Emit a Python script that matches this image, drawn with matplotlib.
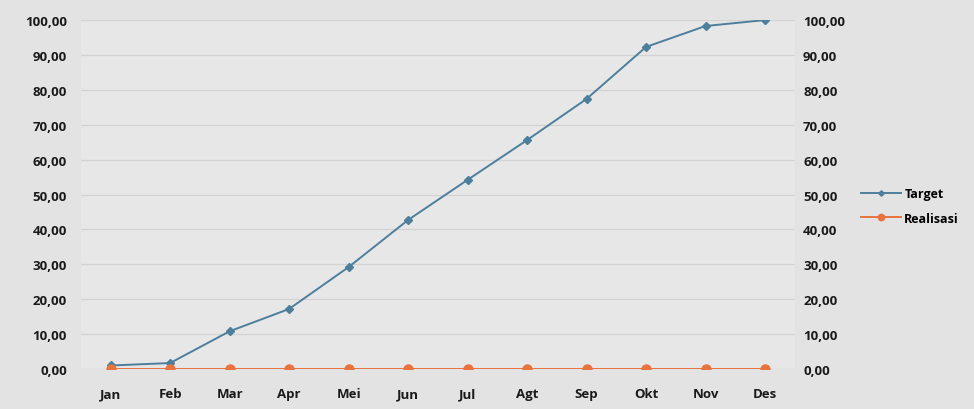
import matplotlib.pyplot as plt
from matplotlib.ticker import FuncFormatter

# data
bulan = ['Jan', 'Feb', 'Mar', 'Apr', 'Mei', 'Jun', 'Jul', 'Agt', 'Sep', 'Okt', 'Nov', 'Des']
target = [1.0, 1.7, 10.8, 17.2, 29.2, 42.7, 54.2, 65.6, 77.4, 92.3, 98.3, 100.0]
realisasi = [0, 0, 0, 0, 0, 0, 0, 0, 0, 0, 0, 0]
yticks = [0, 10, 20, 30, 40, 50, 60, 70, 80, 90, 100]

plt.rcParams['font.family'] = ['Open Sans', 'DejaVu Sans']

fig = plt.figure(figsize=(9.74, 4.10), dpi=100, facecolor='#e3e3e3')
ax = fig.add_axes([0.083, 0.0976, 0.733, 0.851], facecolor='#e7e7e7')

x = range(len(bulan))
ax.plot(x, target, color='#4d7f9c', lw=1.4, marker='D', ms=4, label='Target', zorder=3)
ax.plot(x, realisasi, color='#e8733f', lw=1.4, marker='o', ms=6.5, label='Realisasi', zorder=4)

ax.set_xlim(-0.5, 11.5)
ax.set_ylim(0, 100)
ax.set_xticks(list(x))
ax.set_xticklabels(bulan)
ax.set_yticks(yticks)
fmt = FuncFormatter(lambda v, p: f'{v:.2f}'.replace('.', ','))
ax.yaxis.set_major_formatter(fmt)
ax.grid(axis='y', color='#d3d3d3', lw=0.9)
for s in ax.spines.values():
    s.set_visible(False)
ax.tick_params(length=0, labelsize=9.5, colors='#1a1a1a')
ax.tick_params(axis='x', pad=13)
ax.tick_params(axis='y', pad=10)
for t in ax.get_xticklabels() + ax.get_yticklabels():
    t.set_fontweight('bold')

ax2 = ax.twinx()
ax2.set_ylim(0, 100)
ax2.set_yticks(yticks)
ax2.yaxis.set_major_formatter(fmt)
for s in ax2.spines.values():
    s.set_visible(False)
ax2.tick_params(length=0, labelsize=9.5, colors='#1a1a1a', pad=6)
for t in ax2.get_yticklabels():
    t.set_fontweight('bold')

leg = fig.legend(loc='center left', bbox_to_anchor=(0.872, 0.495), frameon=False,
                 prop={'size': 9, 'weight': 'bold'}, handlelength=3.2,
                 handletextpad=0.3, labelspacing=0.9, markerscale=0.7)

fig.savefig('out.png', dpi=100, facecolor=fig.get_facecolor())
